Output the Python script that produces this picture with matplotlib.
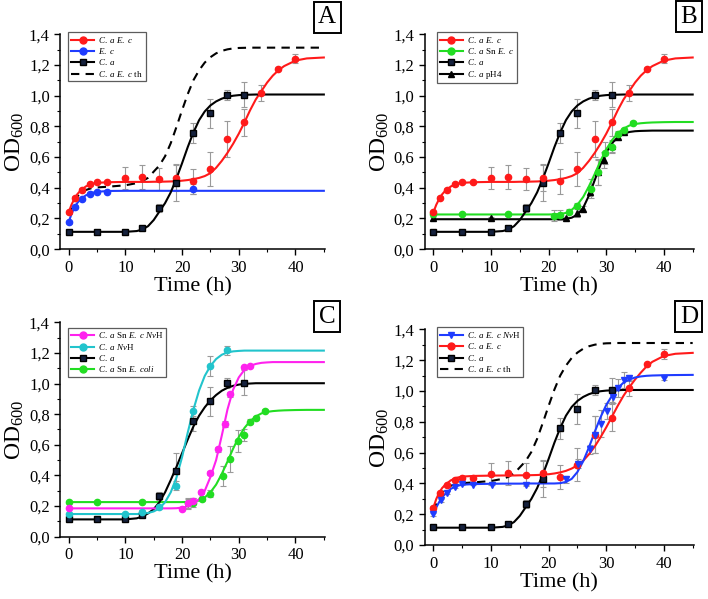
import matplotlib

matplotlib.use("Agg")
import matplotlib.pyplot as plt
from matplotlib.lines import Line2D
from matplotlib.ticker import FuncFormatter, MultipleLocator

plt.rcParams["font.family"] = ["Liberation Serif", "DejaVu Serif"]
plt.rcParams["mathtext.fontset"] = "custom"
plt.rcParams["mathtext.rm"] = "Liberation Serif"
plt.rcParams["mathtext.it"] = "Liberation Serif:italic"

# sample times for the fitted curves (h)
T = [0, 0.5, 1, 1.5, 2, 3, 4, 5, 7, 10, 12, 13, 14, 15, 16, 17, 18, 19, 20, 21,
     22, 23, 24, 25, 26, 27, 28, 29, 30, 31, 32, 33, 34, 35, 36, 37, 38, 40, 42, 45]

# fitted curves
fit_ca_ec = [0.241, 0.29, 0.327, 0.357, 0.378, 0.408, 0.425, 0.432, 0.436, 0.438,
             0.438, 0.438, 0.438, 0.439, 0.439, 0.44, 0.441, 0.443, 0.446, 0.45,
             0.456, 0.464, 0.476, 0.495, 0.53, 0.575, 0.627, 0.686, 0.752, 0.826,
             0.905, 0.975, 1.03, 1.085, 1.13, 1.165, 1.192, 1.228, 1.242, 1.248]
fit_ca_ec_d = [0.245, 0.30, 0.34, 0.37, 0.39, 0.42, 0.437, 0.445, 0.449, 0.451,
               0.452, 0.452, 0.452, 0.453, 0.453, 0.454, 0.455, 0.457, 0.46, 0.465,
               0.472, 0.482, 0.497, 0.518, 0.548, 0.59, 0.64, 0.70, 0.765, 0.835,
               0.905, 0.97, 1.025, 1.075, 1.12, 1.16, 1.19, 1.228, 1.242, 1.248]
fit_ec = [0.176, 0.23, 0.27, 0.30, 0.322, 0.35, 0.366, 0.374, 0.379, 0.38,
          0.38, 0.38, 0.38, 0.38, 0.38, 0.38, 0.38, 0.38, 0.38, 0.38,
          0.38, 0.38, 0.38, 0.38, 0.38, 0.38, 0.38, 0.38, 0.38, 0.38,
          0.38, 0.38, 0.38, 0.38, 0.38, 0.38, 0.38, 0.38, 0.38, 0.38]
fit_ca = [0.113, 0.113, 0.113, 0.113, 0.113, 0.113, 0.113, 0.113, 0.113, 0.113,
          0.118, 0.128, 0.15, 0.19, 0.245, 0.30, 0.37, 0.46, 0.56, 0.665,
          0.76, 0.84, 0.897, 0.936, 0.962, 0.98, 0.992, 0.999, 1.003, 1.005,
          1.006, 1.007, 1.007, 1.007, 1.007, 1.007, 1.007, 1.007, 1.007, 1.007]
fit_ca_c = [0.113, 0.113, 0.113, 0.113, 0.113, 0.113, 0.113, 0.113, 0.113, 0.113,
            0.12, 0.132, 0.152, 0.18, 0.225, 0.29, 0.37, 0.455, 0.545, 0.635,
            0.72, 0.79, 0.845, 0.89, 0.925, 0.953, 0.972, 0.985, 0.993, 0.998,
            1.0, 1.002, 1.002, 1.002, 1.002, 1.002, 1.002, 1.002, 1.002, 1.002]
fit_th = [0.22, 0.27, 0.31, 0.34, 0.36, 0.385, 0.397, 0.402, 0.407, 0.416,
          0.43, 0.443, 0.465, 0.505, 0.545, 0.605, 0.69, 0.795, 0.905, 1.01,
          1.10, 1.165, 1.215, 1.25, 1.275, 1.291, 1.301, 1.307, 1.31, 1.311,
          1.312, 1.312, 1.312, 1.312, 1.312, 1.312, 1.312, 1.312, 1.312, 1.312]
fit_sn_ec = [0.226, 0.226, 0.226, 0.226, 0.226, 0.226, 0.226, 0.226, 0.226, 0.226,
             0.226, 0.226, 0.226, 0.226, 0.226, 0.226, 0.226, 0.226, 0.226, 0.227,
             0.229, 0.236, 0.256, 0.29, 0.34, 0.41, 0.49, 0.575, 0.65, 0.71,
             0.755, 0.785, 0.805, 0.815, 0.82, 0.823, 0.825, 0.827, 0.828, 0.828]
fit_ph4 = [0.195, 0.195, 0.195, 0.195, 0.195, 0.195, 0.195, 0.195, 0.195, 0.195,
           0.195, 0.195, 0.195, 0.195, 0.195, 0.195, 0.195, 0.195, 0.195, 0.195,
           0.195, 0.197, 0.205, 0.225, 0.27, 0.35, 0.45, 0.55, 0.63, 0.69,
           0.73, 0.752, 0.763, 0.768, 0.77, 0.771, 0.772, 0.772, 0.772, 0.772]
fit_nvh = [0.148, 0.148, 0.148, 0.148, 0.148, 0.148, 0.148, 0.148, 0.148, 0.148,
           0.148, 0.15, 0.155, 0.165, 0.185, 0.225, 0.29, 0.385, 0.52, 0.68,
           0.83, 0.955, 1.05, 1.115, 1.16, 1.188, 1.203, 1.21, 1.213, 1.215,
           1.215, 1.215, 1.215, 1.215, 1.215, 1.215, 1.215, 1.215, 1.215, 1.215]
fit_sn_ec_nvh = [0.185, 0.185, 0.185, 0.185, 0.185, 0.185, 0.185, 0.185, 0.185, 0.185,
                 0.185, 0.185, 0.185, 0.185, 0.185, 0.185, 0.185, 0.186, 0.19, 0.198,
                 0.215, 0.245, 0.30, 0.39, 0.50, 0.66, 0.83, 0.96, 1.04, 1.09,
                 1.115, 1.128, 1.135, 1.138, 1.14, 1.14, 1.14, 1.14, 1.14, 1.14]
fit_ec_nvh = [0.20, 0.245, 0.28, 0.31, 0.33, 0.365, 0.384, 0.392, 0.396, 0.398,
              0.399, 0.399, 0.399, 0.399, 0.4, 0.4, 0.4, 0.4, 0.4, 0.4,
              0.402, 0.41, 0.43, 0.475, 0.545, 0.635, 0.735, 0.83, 0.91, 0.97,
              1.02, 1.055, 1.075, 1.088, 1.095, 1.099, 1.101, 1.103, 1.104, 1.105]

# measured points: time, OD600, error
ca_ec_t = [0, 1.2, 2.3, 3.7, 5, 6.8, 10, 13, 16, 19, 22, 25, 28, 31, 34, 37, 40]
ca_ec_y = [0.241, 0.336, 0.388, 0.423, 0.436, 0.436, 0.462, 0.47, 0.457, 0.466, 0.442,
           0.522, 0.717, 0.826, 1.019, 1.175, 1.24]
ca_ec_e = [0.01, 0.01, 0.01, 0.01, 0.005, 0.005, 0.073, 0.078, 0.073, 0.089, 0.08,
           0.108, 0.12, 0.087, 0.052, 0.01, 0.03]

ec_t = [0, 1.2, 2.3, 3.7, 5, 6.8, 22]
ec_y = [0.176, 0.275, 0.327, 0.362, 0.373, 0.375, 0.392]
ec_e = [0.01, 0.01, 0.01, 0.01, 0.005, 0.005, 0.035]

ca_t = [0, 5, 10, 13, 16, 19, 22, 25, 28, 31]
ca_y = [0.115, 0.115, 0.115, 0.14, 0.267, 0.43, 0.757, 0.884, 1.006, 1.006]
ca_e = [0.005, 0.005, 0.005, 0.01, 0.025, 0.115, 0.065, 0.095, 0.033, 0.08]

sn_ec_t = [0, 5, 13, 21, 22, 23.5, 25, 27.3, 28.5, 29.8, 31, 32, 33, 34.6]
sn_ec_y = [0.228, 0.228, 0.228, 0.218, 0.222, 0.245, 0.282, 0.395, 0.505, 0.625,
           0.665, 0.752, 0.775, 0.822]
sn_ec_e = [0.005, 0.005, 0.01, 0.035, 0.03, 0.015, 0.02, 0.065, 0.085, 0.07,
           0.04, 0.015, 0.015, 0.01]

ph4_t = [0, 10, 23, 25, 26, 27.2, 28.5, 29.6, 31, 32, 33]
ph4_y = [0.2, 0.2, 0.2, 0.238, 0.262, 0.375, 0.5, 0.58, 0.67, 0.728, 0.765]
ph4_e = [0.01, 0.01, 0.01, 0.03, 0.02, 0.03, 0.08, 0.05, 0.04, 0.02, 0.015]

nvh_t = [0, 10, 13, 16, 19, 22, 25, 28]
nvh_y = [0.148, 0.148, 0.163, 0.195, 0.332, 0.82, 1.113, 1.216]
nvh_e = [0.005, 0.005, 0.01, 0.015, 0.03, 0.035, 0.065, 0.03]

sn_nvh_t = [0, 20, 21, 22, 23.3, 24.9, 26.4, 27.5, 28.4, 31, 32]
sn_nvh_y = [0.185, 0.182, 0.217, 0.234, 0.289, 0.417, 0.571, 0.734, 0.929, 1.105, 1.116]
sn_nvh_e = [0.005, 0.01, 0.03, 0.02, 0.01, 0.015, 0.015, 0.02, 0.015, 0.01, 0.005]

ec_nvh_t = [0, 1.3, 2.4, 3.8, 5, 6.8, 10.1, 16.1, 23, 25.1, 27.1, 28, 29, 30.1,
            31.1, 32, 33.1, 34, 40]
ec_nvh_y = [0.199, 0.292, 0.339, 0.378, 0.395, 0.393, 0.393, 0.393, 0.426, 0.529,
            0.622, 0.715, 0.789, 0.871, 0.961, 1.02, 1.072, 1.084, 1.084]
ec_nvh_e = [0.01, 0.01, 0.01, 0.01, 0.005, 0.005, 0.005, 0.005, 0.02, 0.03,
            0.03, 0.12, 0.09, 0.05, 0.04, 0.06, 0.05, 0.02, 0.01]

RED = "#ff1a1a"
BLUE = "#1f3cff"
GREEN = "#22dd22"
CYAN = "#22c4cc"
MAGENTA = "#ff22ee"
BLACK = "#000000"
ERR = "#9a9a9a"

LBL_CA_EC = r"$\mathit{C.\ a\ E.\ c}$"
LBL_EC = r"$\mathit{E.\ c}$"
LBL_CA = r"$\mathit{C.\ a}$"
LBL_TH = r"$\mathit{C.\ a\ E.\ c}$ th"
LBL_SN = r"$\mathit{C.\ a}$ Sn $\mathit{E.\ c}$"
LBL_PH4 = r"$\mathit{C.\ a}$ pH4"
LBL_SN_NVH = r"$\mathit{C.\ a}$ Sn $\mathit{E.\ c\ Nv}$H"
LBL_NVH = r"$\mathit{C.\ a\ Nv}$H"
LBL_SN_COLI = r"$\mathit{C.\ a}$ Sn $\mathit{E.\ coli}$"
LBL_EC_NVH = r"$\mathit{C.\ a\ E.\ c\ Nv}$H"


def series(ax, t, y, e, fit, color, marker, label, mfc=None, dashed=False):
    if t is not None:
        ax.errorbar(t, y, yerr=e, fmt="none", ecolor=ERR, elinewidth=0.8,
                    capsize=2, capthick=0.8, zorder=2)
    ax.plot(T, fit, color=color, lw=1.5, ls=(0, (4, 3)) if dashed else "-", zorder=3)
    if t is not None:
        ax.plot(t, y, ls="none", marker=marker, ms=4.5, color=color,
                mfc=mfc or color, mec=color if mfc is None else BLACK, zorder=4)
    if dashed:
        return Line2D([], [], color=color, lw=1.5, ls=(0, (4, 3)), label=label)
    return Line2D([], [], color=color, lw=1.5, marker=marker, ms=5,
                  mfc=mfc or color, mec=color if mfc is None else BLACK, label=label)


def style_axes(ax, handles, letter, letter_pos, legend_anchor):
    ax.set_xlim(-1.5, 45.2)
    ax.set_ylim(0, 1.4)
    ax.xaxis.set_major_locator(MultipleLocator(10))
    ax.xaxis.set_minor_locator(MultipleLocator(5))
    ax.yaxis.set_major_locator(MultipleLocator(0.2))
    ax.yaxis.set_minor_locator(MultipleLocator(0.1))
    ax.yaxis.set_major_formatter(FuncFormatter(lambda v, _: f"{v:.1f}".replace(".", ",")))
    for side in ("top", "right"):
        ax.spines[side].set_visible(False)
    for side in ("left", "bottom"):
        ax.spines[side].set_linewidth(1.1)
    ax.tick_params(which="major", direction="out", length=4, width=1.0, labelsize=12)
    ax.tick_params(which="minor", direction="out", length=2.5, width=0.8)
    ax.set_xlabel("Time (h)", fontsize=16, labelpad=1)
    ax.set_ylabel(r"OD$_{600}$", fontsize=17, labelpad=2)
    leg = ax.legend(handles=handles, loc="upper left", bbox_to_anchor=legend_anchor,
                    borderaxespad=0, fontsize=6.5, frameon=True, fancybox=False,
                    handlelength=2.6, handletextpad=0.4, labelspacing=0.15,
                    borderpad=0.3)
    leg.get_frame().set_edgecolor("#333333")
    leg.get_frame().set_linewidth(0.9)
    ax.figure.text(letter_pos[0], letter_pos[1], letter, fontsize=18, ha="center",
                   va="center",
                   bbox=dict(boxstyle="square,pad=0.18", fc="white", ec="black", lw=1.4))


fig = plt.figure(figsize=(7.08, 5.99), dpi=100)
ax_a = fig.add_axes([0.085, 0.584, 0.374, 0.359])
ax_b = fig.add_axes([0.600, 0.584, 0.380, 0.359])
ax_c = fig.add_axes([0.085, 0.104, 0.374, 0.358])
ax_d = fig.add_axes([0.600, 0.090, 0.380, 0.360])

# A
h = [
    series(ax_a, ec_t, ec_y, ec_e, fit_ec, BLUE, "o", LBL_EC),
    series(ax_a, None, None, None, fit_th, BLACK, None, LBL_TH, dashed=True),
    series(ax_a, ca_ec_t, ca_ec_y, ca_ec_e, fit_ca_ec, RED, "o", LBL_CA_EC),
    series(ax_a, ca_t, ca_y, ca_e, fit_ca, BLACK, "s", LBL_CA, mfc="#15213d"),
]
style_axes(ax_a, [h[2], h[0], h[3], h[1]], "A", (0.462, 0.971), (0.03, 1.01))

# B
h = [
    series(ax_b, ph4_t, ph4_y, ph4_e, fit_ph4, BLACK, "^", LBL_PH4),
    series(ax_b, sn_ec_t, sn_ec_y, sn_ec_e, fit_sn_ec, GREEN, "o", LBL_SN),
    series(ax_b, ca_t, ca_y, ca_e, fit_ca, BLACK, "s", LBL_CA, mfc="#15213d"),
    series(ax_b, ca_ec_t, ca_ec_y, ca_ec_e, fit_ca_ec, RED, "o", LBL_CA_EC),
]
style_axes(ax_b, [h[3], h[1], h[2], h[0]], "B", (0.973, 0.972), (0.045, 1.01))

# C
h = [
    series(ax_c, sn_ec_t, sn_ec_y, sn_ec_e, fit_sn_ec, GREEN, "o", LBL_SN_COLI),
    series(ax_c, ca_t, ca_y, ca_e, fit_ca_c, BLACK, "s", LBL_CA, mfc="#15213d"),
    series(ax_c, nvh_t, nvh_y, nvh_e, fit_nvh, CYAN, "o", LBL_NVH),
    series(ax_c, sn_nvh_t, sn_nvh_y, sn_nvh_e, fit_sn_ec_nvh, MAGENTA, "o", LBL_SN_NVH),
]
style_axes(ax_c, [h[3], h[2], h[1], h[0]], "C", (0.462, 0.471), (0.03, 0.975))

# D
h = [
    series(ax_d, None, None, None, fit_th, BLACK, None, LBL_TH, dashed=True),
    series(ax_d, ca_t, ca_y, ca_e, fit_ca, BLACK, "s", LBL_CA, mfc="#15213d"),
    series(ax_d, ca_ec_t, ca_ec_y, ca_ec_e, fit_ca_ec_d, RED, "o", LBL_CA_EC),
    series(ax_d, ec_nvh_t, ec_nvh_y, ec_nvh_e, fit_ec_nvh, BLUE, "v", LBL_EC_NVH),
]
style_axes(ax_d, [h[3], h[2], h[1], h[0]], "D", (0.973, 0.471), (0.045, 1.01))

fig.savefig("out.png", dpi=100)
